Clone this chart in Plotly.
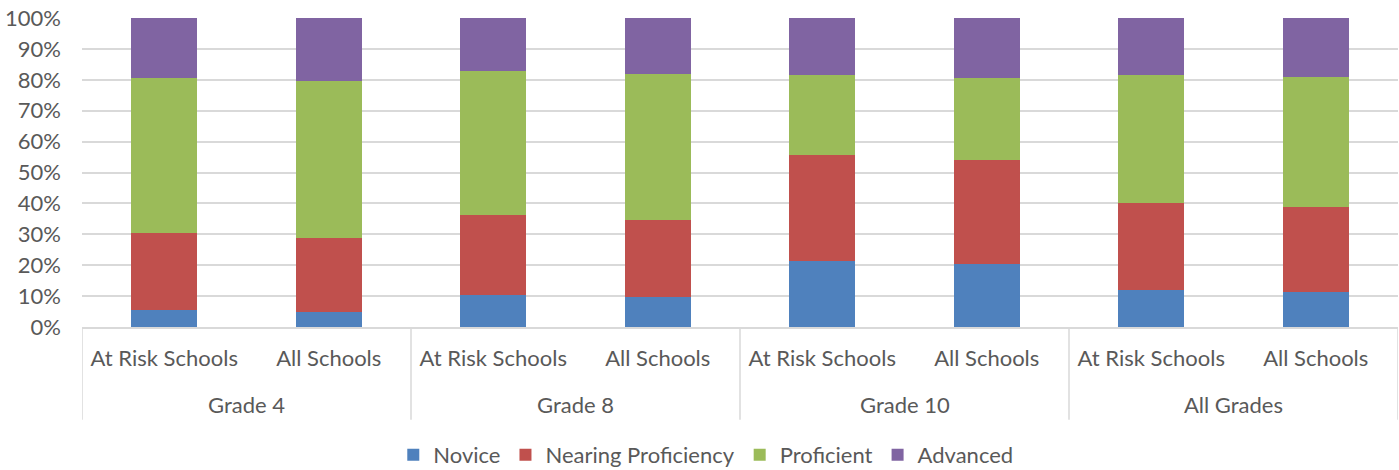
import plotly.graph_objects as go

groups = ["Grade 4", "Grade 8", "Grade 10", "All Grades"]
schools = ["At Risk Schools", "All Schools"] * 4

novice = [5.4, 4.9, 10.3, 9.7, 21.4, 20.5, 11.9, 11.2]
nearing = [25.1, 24.0, 26.0, 25.0, 34.3, 33.6, 28.2, 27.5]
proficient = [50.1, 50.6, 46.5, 47.3, 25.8, 26.5, 41.4, 42.1]
advanced = [19.4, 20.5, 17.2, 18.0, 18.5, 19.4, 18.5, 19.2]

series = [
    ("Novice", novice, "#4f81bd"),
    ("Nearing Proficiency", nearing, "#c0504d"),
    ("Proficient", proficient, "#9bbb59"),
    ("Advanced", advanced, "#8064a2"),
]

FONT = "Lato, sans-serif"
TXT = "#595959"
GRID = "#d9d9d9"
xs = list(range(len(schools)))

fig = go.Figure()
for name, vals, color in series:
    fig.add_trace(go.Bar(
        x=xs, y=vals, name=name,
        marker=dict(color=color, line=dict(width=0)),
        width=0.4,
    ))

# group labels and dividers
for i, g in enumerate(groups):
    fig.add_annotation(x=2 * i + 0.5, y=-0.252, xref="x", yref="paper",
                       text=g, showarrow=False, yanchor="middle",
                       font=dict(family=FONT, size=22, color=TXT))
for i in range(len(groups) + 1):
    fig.add_shape(type="line", xref="x", yref="paper",
                  x0=2 * i - 0.5, x1=2 * i - 0.5, y0=0, y1=-0.30,
                  line=dict(color=GRID, width=1.5))

fig.update_layout(
    barmode="stack",
    width=1399, height=470,
    margin=dict(l=82, r=1, t=18, b=143, autoexpand=False),
    plot_bgcolor="white", paper_bgcolor="white",
    font=dict(family=FONT, size=22, color=TXT),
    legend=dict(orientation="h", x=0.474, xanchor="center", y=-0.414, yanchor="middle",
                font=dict(family=FONT, size=22, color=TXT), traceorder="normal",
                itemwidth=30),
    yaxis=dict(range=[0, 100], tickvals=list(range(0, 101, 10)),
               ticktext=[f"{v}%" for v in range(0, 101, 10)],
               showgrid=True, gridcolor=GRID, gridwidth=1.5,
               zeroline=False, showline=False, ticks="", ticklen=0,
               ticklabelstandoff=20, automargin=False, ticklabeloverflow="allow",
               tickfont=dict(family=FONT, size=22, color=TXT)),
    xaxis=dict(range=[-0.5, 7.5], tickvals=xs, ticktext=schools,
               showline=True, linecolor=GRID, linewidth=1.5,
               showgrid=False, zeroline=False, ticks="", automargin=False,
               ticklabelstandoff=11, ticklabeloverflow="allow",
               tickfont=dict(family=FONT, size=22, color=TXT)),
)

fig.write_html("out.html", config={"displayModeBar": False},
               post_script="document.body.style.margin='0';document.body.style.overflow='hidden';")
